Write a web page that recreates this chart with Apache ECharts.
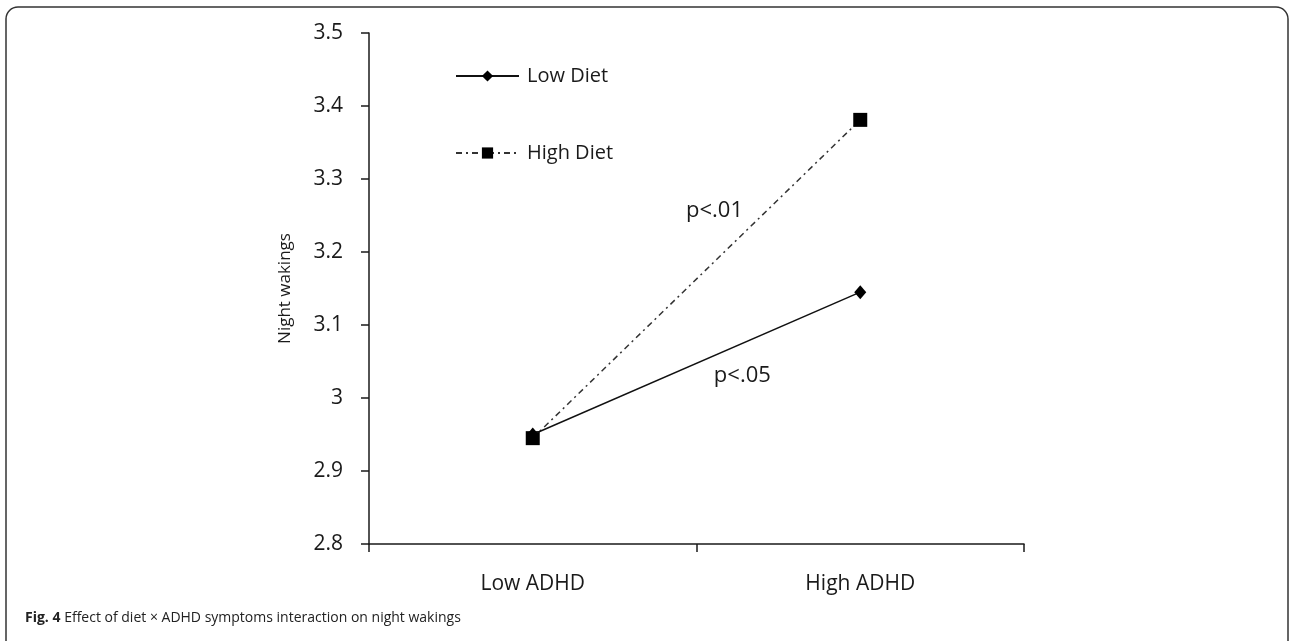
<!DOCTYPE html>
<html>
<head>
<meta charset="utf-8">
<script src="https://cdn.jsdelivr.net/npm/echarts@6/dist/echarts.min.js"></script>
<style>
  html, body { margin: 0; padding: 0; background: #fff; }
  #chart { width: 1290px; height: 641px; }
</style>
</head>
<body>
<div id="chart"></div>
<script>
// Groups on the x axis
const categories = ['Low ADHD', 'High ADHD'];
// Mean night wakings per diet group
const lowDiet = [2.95, 3.145];
const highDiet = [2.945, 3.381];
// Y axis range and step
const yMin = 2.8, yMax = 3.5, yStep = 0.1;
// Significance notes: [position between the two groups (0..1), y value, text]
const notes = [
  [0.555, 3.256, 'p<.01'],
  [0.64, 3.03, 'p<.05']
];
const caption = ['Fig. 4', ' Effect of diet \u00d7 ADHD symptoms interaction on night wakings'];

const FONT = '"Open Sans", sans-serif';
const INK = '#1a1a1a';

const chart = echarts.init(document.getElementById('chart'), null, { renderer: 'canvas' });

const option = {
  backgroundColor: '#fff',
  animation: false,
  grid: { left: 369, top: 33, right: 266, bottom: 97, containLabel: false },
  legend: {
    orient: 'vertical',
    left: 450,
    top: 61,
    itemWidth: 63,
    itemHeight: 14,
    itemGap: 57,
    textStyle: { fontFamily: FONT, fontSize: 20, lineHeight: 20, color: INK, padding: [0, 0, 0, 3] },
    data: ['Low Diet', 'High Diet']
  },
  xAxis: {
    type: 'category',
    data: categories,
    boundaryGap: true,
    axisLine: { lineStyle: { color: INK, width: 1.5 } },
    axisTick: { show: true, length: 8, inside: false, lineStyle: { color: INK, width: 1.5 } },
    axisLabel: { fontFamily: FONT, fontSize: 21, color: INK, margin: 30 },
    splitLine: { show: false }
  },
  yAxis: {
    type: 'value',
    min: yMin,
    max: yMax,
    interval: yStep,
    name: 'Night wakings',
    nameLocation: 'middle',
    nameGap: 75,
    nameRotate: 90,
    nameTextStyle: { fontFamily: FONT, fontSize: 17, color: INK },
    axisLine: { show: true, lineStyle: { color: INK, width: 1.5 } },
    axisTick: { show: true, length: 8, lineStyle: { color: INK, width: 1.5 } },
    axisLabel: {
      fontFamily: FONT, fontSize: 21, color: INK, margin: 26,
      formatter: v => String(parseFloat(v.toFixed(1)))
    },
    splitLine: { show: false }
  },
  series: [
    {
      name: 'High Diet',
      type: 'line',
      data: highDiet,
      z: 2,
      symbol: 'rect',
      symbolSize: 14,
      itemStyle: { color: '#000' },
      lineStyle: { color: '#333', width: 1.5, type: [6, 4, 2, 4] }
    },
    {
      name: 'Low Diet',
      type: 'line',
      data: lowDiet,
      z: 3,
      symbol: 'diamond',
      symbolSize: [12, 14],
      itemStyle: { color: '#000' },
      lineStyle: { color: '#111', width: 1.5, type: 'solid' }
    }
  ]
};

chart.setOption(option);

// Annotation texts: interpolate between the two category positions
const p0 = chart.convertToPixel({ gridIndex: 0 }, [categories[0], yMin]);
const p1 = chart.convertToPixel({ gridIndex: 0 }, [categories[1], yMin]);
const gfx = notes.map(n => {
  const yPix = chart.convertToPixel({ yAxisIndex: 0 }, n[1]);
  return {
    type: 'text',
    x: p0[0] + (p1[0] - p0[0]) * n[0],
    y: yPix,
    style: {
      text: n[2], fill: INK, font: '22px ' + FONT,
      textAlign: 'center', textVerticalAlign: 'middle'
    }
  };
});
// Frame around the figure
gfx.push({
  type: 'rect',
  shape: { x: 6, y: 7, width: 1282, height: 650, r: 12 },
  style: { fill: 'none', stroke: '#333', lineWidth: 1.5 },
  silent: true
});
// Caption
gfx.push({
  type: 'text',
  x: 25, y: 618,
  style: {
    text: '{b|' + caption[0] + '}{n|' + caption[1] + '}',
    textVerticalAlign: 'middle',
    rich: {
      b: { font: 'bold 14px "Open Sans", sans-serif', fill: '#222' },
      n: { font: '14px "Open Sans", sans-serif', fill: '#222' }
    }
  }
});
chart.setOption({ graphic: gfx });
</script>
</body>
</html>
